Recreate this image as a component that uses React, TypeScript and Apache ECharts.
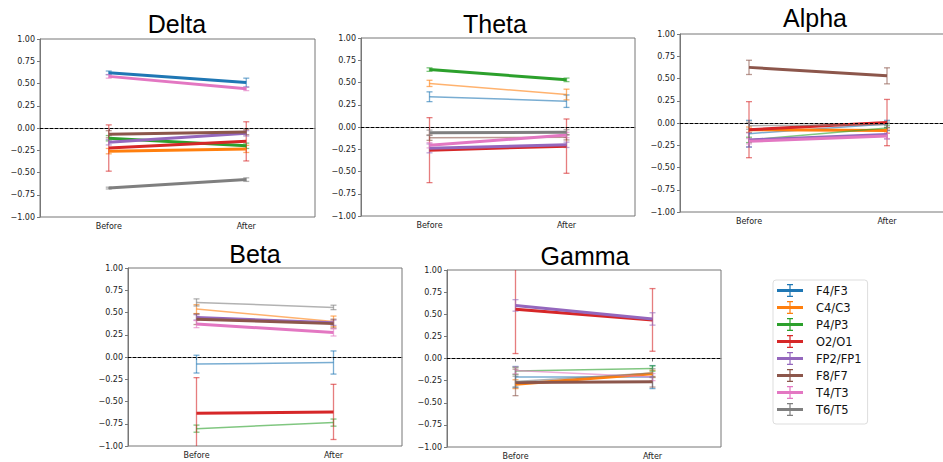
import React, { useEffect, useRef } from "react";
import * as echarts from "echarts";

const channels = ["F4/F3", "C4/C3", "P4/P3", "O2/O1", "FP2/FP1", "F8/F7", "T4/T3", "T6/T5"];
const phases = ["Before", "After"];

// Delta
const deltaBefore = [0.62, -0.26, -0.115, -0.225, -0.16, -0.07, 0.58, -0.675];
const deltaAfter = [0.51, -0.235, -0.2, -0.15, -0.06, -0.045, 0.44, -0.58];
const deltaErrBefore = [0.02, 0.03, 0.03, 0.26, 0.03, 0.04, 0.02, 0.01];
const deltaErrAfter = [0.05, 0.04, 0.03, 0.22, 0.03, 0.03, 0.02, 0.02];
const deltaSignificant = [true, true, true, true, true, true, true, true];

// Theta
const thetaBefore = [0.34, 0.49, 0.645, -0.26, -0.24, -0.12, -0.205, -0.065];
const thetaAfter = [0.29, 0.365, 0.53, -0.215, -0.2, -0.115, -0.09, -0.06];
const thetaErrBefore = [0.055, 0.035, 0.02, 0.365, 0.05, 0.03, 0.03, 0.03];
const thetaErrAfter = [0.07, 0.06, 0.02, 0.305, 0.03, 0.03, 0.03, 0.03];
const thetaSignificant = [false, false, true, true, true, false, true, true];

// Alpha
const alphaBefore = [-0.12, -0.075, -0.19, -0.075, -0.19, 0.625, -0.205, -0.03];
const alphaAfter = [-0.01, -0.085, -0.055, 0.005, -0.13, 0.53, -0.145, -0.02];
const alphaErrBefore = [0.15, 0.03, 0.03, 0.315, 0.08, 0.08, 0.03, 0.04];
const alphaErrAfter = [0.04, 0.03, 0.03, 0.26, 0.05, 0.09, 0.03, 0.03];
const alphaSignificant = [false, true, false, true, true, true, true, false];

// Beta
const betaBefore = [-0.08, 0.538, -0.805, -0.632, 0.445, 0.425, 0.37, 0.613];
const betaAfter = [-0.062, 0.4, -0.737, -0.617, 0.385, 0.375, 0.276, 0.557];
const betaErrBefore = [0.1, 0.05, 0.04, 0.4, 0.03, 0.06, 0.04, 0.04];
const betaErrAfter = [0.13, 0.06, 0.04, 0.31, 0.03, 0.05, 0.04, 0.025];
const betaSignificant = [false, false, false, true, true, true, true, false];

// Gamma
const gammaBefore = [-0.21, -0.29, -0.14, 0.556, 0.6, -0.27, -0.135, -0.26];
const gammaAfter = [-0.21, -0.173, -0.113, 0.436, 0.447, -0.263, -0.21, -0.165];
const gammaErrBefore = [0.12, 0.05, 0.04, 0.5, 0.065, 0.15, 0.04, 0.06];
const gammaErrAfter = [0.13, 0.04, 0.03, 0.354, 0.07, 0.06, 0.04, 0.05];
const gammaSignificant = [false, true, false, true, true, true, false, false];

const colors = ["#1f77b4", "#ff7f0e", "#2ca02c", "#d62728", "#9467bd", "#8c564b", "#e377c2", "#7f7f7f"];

const panels = [
  { name: "Delta", before: deltaBefore, after: deltaAfter, errB: deltaErrBefore, errA: deltaErrAfter, sig: deltaSignificant },
  { name: "Theta", before: thetaBefore, after: thetaAfter, errB: thetaErrBefore, errA: thetaErrAfter, sig: thetaSignificant },
  { name: "Alpha", before: alphaBefore, after: alphaAfter, errB: alphaErrBefore, errA: alphaErrAfter, sig: alphaSignificant },
  { name: "Beta", before: betaBefore, after: betaAfter, errB: betaErrBefore, errA: betaErrAfter, sig: betaSignificant },
  { name: "Gamma", before: gammaBefore, after: gammaAfter, errB: gammaErrBefore, errA: gammaErrAfter, sig: gammaSignificant },
];

// layout (px)
const boxes = [
  { left: 40, top: 39, width: 275, height: 178, tx: 177, ty: 24 },
  { left: 361, top: 38, width: 274, height: 178, tx: 495, ty: 24 },
  { left: 680, top: 34, width: 276, height: 178, tx: 815, ty: 18 },
  { left: 128, top: 268, width: 274, height: 178, tx: 255, ty: 254 },
  { left: 447, top: 270, width: 274, height: 177, tx: 585, ty: 256 },
];

const fmt = (v: number) => (v < 0 ? "\u2212" : "") + Math.abs(v).toFixed(2);
const legendIcon =
  "path://M0,5 L26,5 L26,8 L0,8 Z M12.4,0 L13.6,0 L13.6,13 L12.4,13 Z M10,0 L16,0 L16,1.2 L10,1.2 Z M10,11.8 L16,11.8 L16,13 L10,13 Z";

export default function App() {
  const ref = useRef<HTMLDivElement>(null);
  useEffect(() => {
    if (!ref.current) return;
    const chart = echarts.init(ref.current, undefined, { renderer: "svg" });
    const axisColor = "#777";
    const grids = boxes.map((b) => ({
      left: b.left, top: b.top, width: b.width, height: b.height,
      show: true, borderColor: axisColor, borderWidth: 1, backgroundColor: "#fff",
    }));
    const xAxes = boxes.map((_, i) => ({
      type: "category", gridIndex: i, data: phases, boundaryGap: true,
      axisLine: { show: true, lineStyle: { color: axisColor, width: 1 } },
      axisTick: { show: true, alignWithLabel: true, length: 3, lineStyle: { color: axisColor } },
      axisLabel: { fontSize: 8, color: "#222", margin: 5, fontFamily: "DejaVu Sans" },
      splitLine: { show: false },
    }));
    const yAxes = boxes.map((_, i) => ({
      type: "value", gridIndex: i, min: -1, max: 1, interval: 0.25,
      axisLine: { show: true, lineStyle: { color: axisColor, width: 1 } },
      axisTick: { show: true, length: 3, lineStyle: { color: axisColor } },
      axisLabel: { fontSize: 8, color: "#222", margin: 5, fontFamily: "DejaVu Sans", formatter: fmt },
      splitLine: { show: false },
    }));
    const series: any[] = [];
    panels.forEach((p, pi) => {
      const errData: any[] = [];
      channels.forEach((ch, ci) => {
        const sig = p.sig[ci];
        series.push({
          type: "line", name: ch, xAxisIndex: pi, yAxisIndex: pi,
          data: [p.before[ci], p.after[ci]],
          symbol: "none", silent: true, z: 3, clip: true,
          itemStyle: { color: colors[ci] },
          lineStyle: { color: colors[ci], width: sig ? 3 : 1.5, opacity: sig ? 1 : 0.6 },
          markLine: ci === 0 ? {
            silent: true, symbol: "none", label: { show: false },
            lineStyle: { type: [3, 2], color: "#000", width: 1 },
            data: [{ yAxis: 0 }], animation: false,
          } : undefined,
        });
        errData.push([0, p.before[ci], p.errB[ci], ci]);
        errData.push([1, p.after[ci], p.errA[ci], ci]);
      });
      series.push({
        type: "custom", xAxisIndex: pi, yAxisIndex: pi, silent: true, z: 2, clip: true,
        data: errData, encode: { x: 0, y: 1 },
        renderItem: (params: any, api: any) => {
          const x = api.value(0), y = api.value(1), e = api.value(2), ci = api.value(3);
          const t = api.coord([x, y + e]);
          const b = api.coord([x, y - e]);
          const style = { stroke: colors[ci], lineWidth: 1.3, opacity: 0.6, fill: null };
          return {
            type: "group",
            children: [
              { type: "line", shape: { x1: t[0], y1: t[1], x2: b[0], y2: b[1] }, style },
              { type: "line", shape: { x1: t[0] - 3, y1: t[1], x2: t[0] + 3, y2: t[1] }, style },
              { type: "line", shape: { x1: b[0] - 3, y1: b[1], x2: b[0] + 3, y2: b[1] }, style },
            ],
          };
        },
      });
    });
    const titles = panels.map((p, i) => ({
      type: "text", x: boxes[i].tx, y: boxes[i].ty,
      style: { text: p.name, fontSize: 25, fontFamily: "Liberation Sans", fill: "#000", textAlign: "center", textVerticalAlign: "middle" },
    }));
    chart.setOption({
      animation: false,
      backgroundColor: "#fff",
      grid: grids,
      xAxis: xAxes,
      yAxis: yAxes,
      series,
      graphic: titles,
      legend: {
        data: channels, orient: "vertical", left: 773, top: 280,
        icon: legendIcon, itemWidth: 26, itemHeight: 13, itemGap: 4,
        padding: [4, 6, 8, 4], borderColor: "#ddd", borderWidth: 1, borderRadius: 3,
        selectedMode: false, itemStyle: { borderWidth: 0 },
        textStyle: { fontSize: 11.5, color: "#111", fontFamily: "DejaVu Sans", padding: [0, 0, 0, 8] },
      },
    });
    return () => chart.dispose();
  }, []);
  return <div ref={ref} style={{ position: "fixed", left: 0, top: 0, width: 970, height: 462, background: "#fff" }} />;
}
